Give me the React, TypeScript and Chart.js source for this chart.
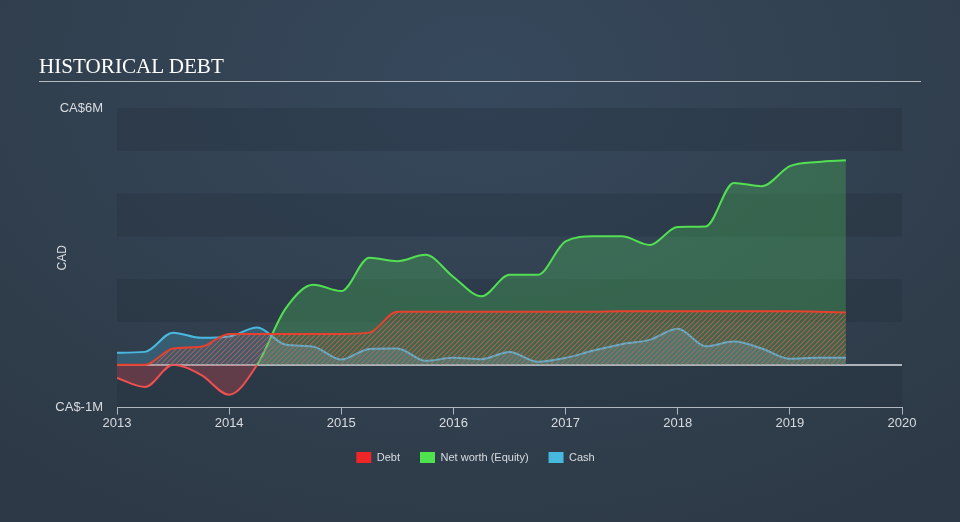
import React, { useEffect, useRef } from "react";
import { Chart, registerables } from "chart.js";

Chart.register(...registerables);

// ---- data (values in CA$ millions) ----
const dates = [
  2013, 2013.25, 2013.5, 2013.75, 2014, 2014.25, 2014.5, 2014.75, 2015, 2015.25,
  2015.5, 2015.75, 2016, 2016.25, 2016.5, 2016.75, 2017, 2017.25, 2017.5, 2017.75,
  2018, 2018.25, 2018.5, 2018.75, 2019, 2019.25, 2019.5,
];
const debt = [
  0, 0, 0.38, 0.42, 0.72, 0.72, 0.72, 0.72, 0.72, 0.75,
  1.24, 1.24, 1.24, 1.24, 1.24, 1.24, 1.24, 1.24, 1.25, 1.25,
  1.25, 1.25, 1.25, 1.25, 1.25, 1.24, 1.22,
];
const netWorth = [
  -0.31, -0.52, 0, -0.24, -0.7, 0, 1.3, 1.87, 1.72, 2.5,
  2.42, 2.57, 2.05, 1.6, 2.1, 2.1, 2.88, 3.0, 3.0, 2.8,
  3.22, 3.23, 4.25, 4.17, 4.64, 4.74, 4.78,
];
const cash = [
  0.28, 0.3, 0.75, 0.63, 0.66, 0.87, 0.47, 0.42, 0.12, 0.37,
  0.38, 0.09, 0.16, 0.13, 0.3, 0.07, 0.16, 0.33, 0.48, 0.58,
  0.84, 0.43, 0.54, 0.38, 0.14, 0.16, 0.16,
];
const seriesNames = ["Debt", "Net worth (Equity)", "Cash"];
const yMin = -1;
const yMax = 6;
const xMin = 2013;
const xMax = 2020;
const yTickText: Record<string, string> = { "6": "CA$6M", "-1": "CA$-1M" };

// ---- styles ----
const RED = "#e8402c";
const RED_NEG = "#ee5050";
const GREEN = "#52e052";
const BLUE = "#4bb9df";
const LEGEND_COLORS = ["#ee2626", "#4ee24e", "#48b9de"];
const TEXT = "#d8dce0";
const FONT = 'Arial, "Liberation Sans", sans-serif';

function makeHatch(): CanvasPattern | string {
  const c = document.createElement("canvas");
  c.width = 5;
  c.height = 5;
  const g = c.getContext("2d");
  if (!g) return "rgba(230,80,60,0.35)";
  g.strokeStyle = "rgba(235,90,62,0.7)";
  g.lineWidth = 1.1;
  g.beginPath();
  g.moveTo(0, 5);
  g.lineTo(5, 0);
  g.moveTo(-1, 1);
  g.lineTo(1, -1);
  g.moveTo(4, 6);
  g.lineTo(6, 4);
  g.stroke();
  return g.createPattern(c, "repeat") || "rgba(230,80,60,0.35)";
}

const bandsPlugin = {
  id: "bands",
  beforeDraw(chart: any) {
    const { ctx, chartArea, scales } = chart;
    const y = scales.y;
    ctx.save();
    for (let v = yMin; v < yMax; v++) {
      if (Math.abs(v % 2) !== 1) continue;
      const top = y.getPixelForValue(v + 1);
      const bottom = y.getPixelForValue(v);
      ctx.fillStyle = "rgba(32,42,55,0.26)";
      ctx.fillRect(chartArea.left, top, chartArea.right - chartArea.left, bottom - top);
    }
    ctx.restore();
  },
};

export default function App() {
  const ref = useRef<HTMLCanvasElement | null>(null);

  useEffect(() => {
    if (!ref.current) return;
    const hatch = makeHatch();
    const pts = (arr: number[]) => dates.map((x, i) => ({ x, y: arr[i] }));
    const chart = new Chart(ref.current, {
      type: "line",
      data: {
        datasets: [
          {
            label: seriesNames[0],
            data: pts(debt),
            borderColor: RED,
            borderWidth: 2,
            backgroundColor: hatch as any,
            fill: { target: { value: 0 } } as any,
            pointRadius: 0,
            cubicInterpolationMode: "monotone",
            order: 0,
          },
          {
            label: seriesNames[1],
            data: pts(netWorth),
            borderColor: GREEN,
            segment: {
              borderColor: (c: any) =>
                c.p0.parsed.y < 0 || c.p1.parsed.y < 0 ? RED_NEG : GREEN,
            },
            borderWidth: 2,
            fill: {
              target: { value: 0 },
              above: "rgba(80,200,90,0.3)",
              below: "rgba(225,70,80,0.3)",
            } as any,
            pointRadius: 0,
            cubicInterpolationMode: "monotone",
            order: 2,
          },
          {
            label: seriesNames[2],
            data: pts(cash),
            borderColor: BLUE,
            borderWidth: 2,
            backgroundColor: "rgba(75,185,223,0.25)",
            fill: { target: { value: 0 } } as any,
            pointRadius: 0,
            cubicInterpolationMode: "monotone",
            order: 1,
          },
        ],
      },
      options: {
        animation: false,
        responsive: false,
        maintainAspectRatio: false,
        layout: { padding: { top: 108, right: 9, left: 0, bottom: 49 } },
        plugins: {
          tooltip: { enabled: false },
          legend: {
            position: "bottom",
            labels: {
              boxWidth: 15,
              boxHeight: 11,
              padding: 20,
              color: TEXT,
              font: { size: 11, family: FONT },
              generateLabels: () =>
                seriesNames.map((t, i) => ({
                  text: t,
                  fillStyle: LEGEND_COLORS[i],
                  strokeStyle: LEGEND_COLORS[i],
                  lineWidth: 0,
                  hidden: false,
                  datasetIndex: i,
                  fontColor: TEXT,
                })),
            },
          },
        },
        scales: {
          x: {
            type: "linear",
            min: xMin,
            max: xMax,
            ticks: {
              stepSize: 1,
              autoSkip: false,
              maxRotation: 0,
              padding: 1,
              color: TEXT,
              font: { size: 13, family: FONT },
              callback: (v: any) => String(v),
            },
            grid: { drawOnChartArea: false, drawTicks: true, tickLength: 7, color: "#aeb6c0" },
            border: { display: true, color: "#aeb6c0", width: 1 },
            afterFit: (s: any) => {
              s.height = 24.5;
            },
          },
          y: {
            min: yMin,
            max: yMax,
            z: 1,
            ticks: {
              stepSize: 1,
              padding: 14,
              color: TEXT,
              font: { size: 13, family: FONT },
              callback: (v: any) => yTickText[String(v)] || "",
            },
            grid: {
              drawTicks: false,
              lineWidth: 2,
              color: (c: any) =>
                c.tick && c.tick.value === 0 ? "rgba(205,210,215,0.8)" : "rgba(0,0,0,0)",
            },
            border: { display: false },
            title: {
              display: true,
              text: "CAD",
              color: TEXT,
              font: { size: 12, family: FONT },
              padding: { top: 55, bottom: 0 },
            },
            afterFit: (s: any) => {
              s.width = 117;
            },
          },
          yRight: {
            position: "right",
            min: yMin,
            max: yMax,
            ticks: { display: false },
            grid: { display: false, drawTicks: false },
            border: { display: false },
            afterFit: (s: any) => {
              s.width = 49;
            },
          },
        },
      } as any,
      plugins: [bandsPlugin],
    });
    return () => chart.destroy();
  }, []);

  return (
    <div
      style={{
        position: "fixed",
        left: 0,
        top: 0,
        width: 960,
        height: 522,
        overflow: "hidden",
        background:
          "radial-gradient(ellipse 75% 95% at 50% 15%, #36485c 0%, #31404f 60%, #2d3946 100%)",
      }}
    >
      <div
        style={{
          position: "absolute",
          left: 39,
          top: 55,
          fontFamily: '"Liberation Serif", "Times New Roman", serif',
          fontSize: 22,
          lineHeight: "22px",
          color: "#ffffff",
          whiteSpace: "nowrap",
          transform: "scaleX(0.96)",
          transformOrigin: "left center",
        }}
      >
        HISTORICAL DEBT
      </div>
      <div
        style={{
          position: "absolute",
          left: 39,
          top: 81,
          width: 882,
          height: 1,
          background: "#b4b9c0",
        }}
      />
      <canvas
        ref={ref}
        width={960}
        height={522}
        style={{ position: "absolute", left: 0, top: 0, width: 960, height: 522 }}
      />
    </div>
  );
}
